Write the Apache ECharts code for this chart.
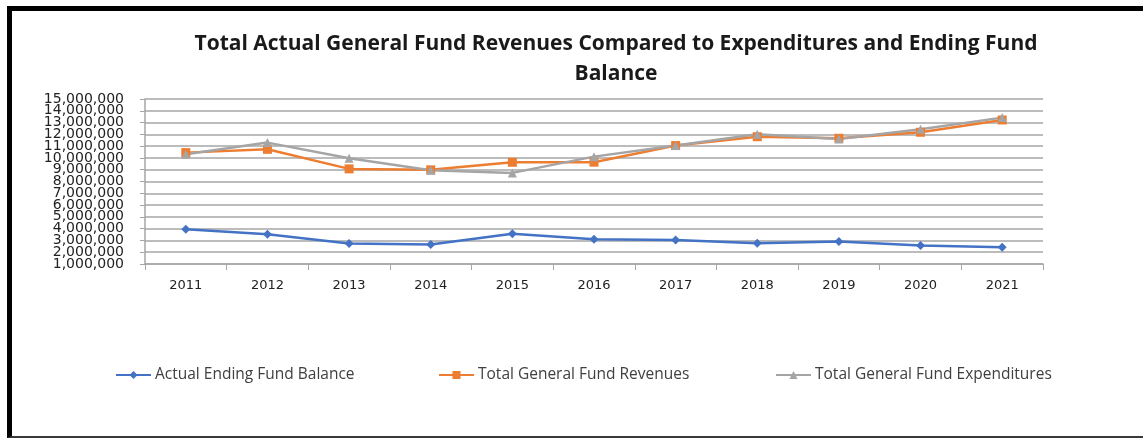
<!DOCTYPE html>
<html>
<head>
<meta charset="utf-8">
<title>General Fund</title>
<script src="https://cdn.jsdelivr.net/npm/echarts@6/dist/echarts.min.js"></script>
<style>
  html, body { margin: 0; padding: 0; background: #fff; }
  #chart { width: 1143px; height: 439px; }
  .frame {
    position: absolute; left: 7px; top: 6px; right: 0; bottom: 1px;
    border-top: 5px solid #000; border-left: 5px solid #000; border-bottom: 2px solid #3a3a3a;
    pointer-events: none;
  }
</style>
</head>
<body>
<div id="chart"></div>
<div class="frame"></div>
<script>
const years = ['2011', '2012', '2013', '2014', '2015', '2016', '2017', '2018', '2019', '2020', '2021']
const endingBalance = [3950000, 3530000, 2740000, 2650000, 3560000, 3110000, 3030000, 2760000, 2910000, 2570000, 2430000]
const revenues      = [10450000, 10730000, 9070000, 8990000, 9630000, 9640000, 11050000, 11800000, 11670000, 12180000, 13220000]
const expenditures  = [10310000, 11300000, 9970000, 8960000, 8730000, 10110000, 11050000, 12000000, 11600000, 12430000, 13420000]
// labels next to the axis ends would be dropped by the overlap check, so they go on a second axis
const crowdedTicks = [2000000, 14000000]

const chart = echarts.init(document.getElementById('chart'))

const BLUE = '#4472c4'
const ORANGE = '#ed7d31'
const GRAY = '#a5a5a5'

const fmt = v => v.toLocaleString('en-US')

function legendAt(name, left) {
  return {
    data: [name],
    left: left,
    top: 367,
    padding: 0,
    itemWidth: 35,
    itemHeight: 10,
    itemGap: 0,
    textStyle: { fontFamily: 'Open Sans', fontSize: 15.5, color: '#404040', padding: [0, 0, 0, -1] },
  }
}

const yLabelStyle = { fontFamily: 'DejaVu Sans', fontSize: 14, color: '#222', margin: 21, lineHeight: 12 }

chart.setOption({
  backgroundColor: '#fff',
  animation: false,
  title: {
    text: 'Total Actual General Fund Revenues Compared to Expenditures and Ending Fund\nBalance',
    left: 611,
    top: 24,
    textAlign: 'center',
    textStyle: { fontFamily: 'Open Sans', fontWeight: 'bold', fontSize: 21, color: '#1a1a1a', lineHeight: 30 },
  },
  legend: [
    legendAt('Actual Ending Fund Balance', 115),
    legendAt('Total General Fund Revenues', 438),
    legendAt('Total General Fund Expenditures', 775),
  ],
  grid: { left: 145, right: 100, top: 99, bottom: 175 },
  xAxis: {
    type: 'category',
    data: years,
    boundaryGap: true,
    axisLine: { lineStyle: { color: '#a6a6a6', width: 1.5 } },
    axisTick: { show: true, length: 6, lineStyle: { color: '#a6a6a6' } },
    axisLabel: { fontFamily: 'DejaVu Sans', fontSize: 13, color: '#222', margin: 15 },
  },
  yAxis: [
    {
      type: 'value',
      min: 1000000,
      max: 15000000,
      interval: 1000000,
      axisLine: { show: true, lineStyle: { color: '#a6a6a6', width: 1.5 } },
      axisTick: { show: true, length: 5, lineStyle: { color: '#a6a6a6' } },
      axisLabel: {
        ...yLabelStyle,
        showMinLabel: true, showMaxLabel: true,
        formatter: v => crowdedTicks.includes(v) ? '' : fmt(v),
      },
      splitLine: { lineStyle: { color: '#a6a6a6', width: 1.5 } },
    },
    {
      type: 'value',
      position: 'left',
      min: 1000000,
      max: 15000000,
      interval: 1000000,
      axisLine: { show: false },
      axisTick: { show: false },
      splitLine: { show: false },
      axisLabel: {
        ...yLabelStyle,
        showMinLabel: false, showMaxLabel: false,
        formatter: v => crowdedTicks.includes(v) ? fmt(v) : '',
      },
    },
  ],
  series: [
    {
      name: 'Actual Ending Fund Balance',
      type: 'line',
      data: endingBalance,
      symbol: 'diamond',
      symbolSize: 9,
      lineStyle: { color: BLUE, width: 2.5 },
      itemStyle: { color: BLUE },
    },
    {
      name: 'Total General Fund Revenues',
      type: 'line',
      data: revenues,
      symbol: 'rect',
      symbolSize: 9,
      lineStyle: { color: ORANGE, width: 2.5 },
      itemStyle: { color: ORANGE },
    },
    {
      name: 'Total General Fund Expenditures',
      type: 'line',
      data: expenditures,
      symbol: 'triangle',
      symbolSize: 9,
      lineStyle: { color: GRAY, width: 2.5 },
      itemStyle: { color: GRAY },
    },
  ],
})
</script>
</body>
</html>
